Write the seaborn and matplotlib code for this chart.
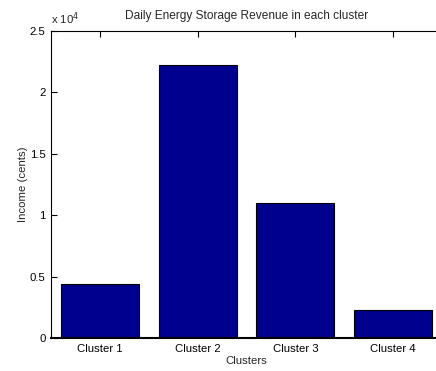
import matplotlib
matplotlib.use("Agg")
import matplotlib.pyplot as plt
from matplotlib.ticker import FuncFormatter
import seaborn as sns
import pandas as pd

clusters = ["Cluster 1", "Cluster 2", "Cluster 3", "Cluster 4"]
income = [4400, 22200, 11000, 2250]
y_ticks = [0, 5000, 10000, 15000, 20000, 25000]

sns.set_style("white")
plt.rcParams["font.family"] = ["Liberation Sans", "DejaVu Sans"]

df = pd.DataFrame({"Clusters": clusters, "Income": income})

fig = plt.figure(figsize=(4.36, 3.71), dpi=100)
ax = fig.add_axes([51 / 436, 33 / 371, 391 / 436, 307 / 371])

sns.barplot(data=df, x="Clusters", y="Income", color="#00008F",
            saturation=1, edgecolor="black", linewidth=0.8, width=0.8, ax=ax)

ax.set_xlim(-0.5, 3.5)
ax.set_ylim(0, 25000)
ax.set_yticks(y_ticks)
ax.yaxis.set_major_formatter(FuncFormatter(lambda v, p: f"{v / 1e4:g}"))

for side in ["top", "right", "left", "bottom"]:
    ax.spines[side].set_visible(True)
    ax.spines[side].set_color("black")
    ax.spines[side].set_linewidth(0.8)
ax.spines["bottom"].set_linewidth(1.5)

ax.tick_params(direction="in", length=4, width=0.8, top=True, right=True,
               bottom=True, left=True, labelsize=8.2, colors="black", pad=4)

ax.set_xlabel("Clusters", fontsize=8.2, labelpad=2)
ax.set_ylabel("Income (cents)", fontsize=8.2, labelpad=1)
ax.set_title("Daily Energy Storage Revenue in each cluster", fontsize=8.6, pad=8.5)

ax.text(0.0, 1.014, "x 10$^{4}$", transform=ax.transAxes, fontsize=8.2,
        ha="left", va="bottom")

fig.savefig("out.png", dpi=100)
